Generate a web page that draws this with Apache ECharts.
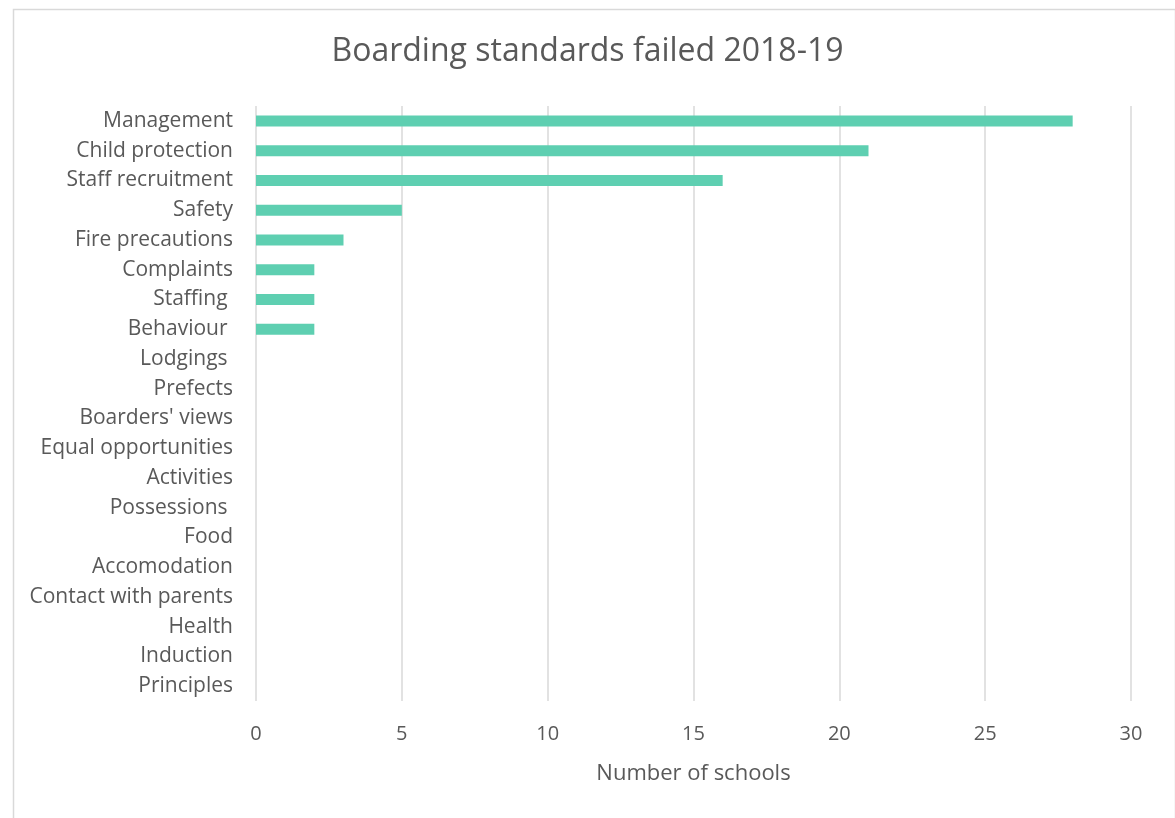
<!DOCTYPE html>
<html><head><meta charset="utf-8">
<script src="https://cdn.jsdelivr.net/npm/echarts@6/dist/echarts.min.js"></script>
<style>html,body{margin:0;padding:0;background:#fff}#c{width:1175px;height:818px}</style>
</head><body><div id="c"></div>
<script>
const categories = ["Management","Child protection","Staff recruitment","Safety","Fire precautions","Complaints","Staffing ","Behaviour ","Lodgings ","Prefects","Boarders' views","Equal opportunities","Activities","Possessions ","Food","Accomodation","Contact with parents","Health","Induction","Principles"];
const values = [28,21,16,5,3,2,2,2,0,0,0,0,0,0,0,0,0,0,0,0];
const xTicks = {min:0,max:30,interval:5};
const FONT = "'Open Sans', 'Noto Sans', sans-serif";
const chart = echarts.init(document.getElementById('c'), null, {renderer:'canvas'});
chart.setOption({
  animation:false,
  backgroundColor:'#fff',
  graphic:[{type:'rect',left:11,top:7,shape:{width:1162,height:840},style:{fill:'none',stroke:'#d9d9d9',lineWidth:1.5},silent:true}],
  title:{text:'Boarding standards failed 2018-19',left:'center',top:31,textStyle:{fontFamily:FONT,fontSize:32,fontWeight:'normal',color:'#595959'}},
  grid:{left:256,right:44,top:106,bottom:117,containLabel:false},
  xAxis:{type:'value',min:xTicks.min,max:xTicks.max,interval:xTicks.interval,
    name:'Number of schools',nameLocation:'middle',nameGap:62,
    nameTextStyle:{fontFamily:FONT,fontSize:22,color:'#595959'},
    axisLine:{show:false},axisTick:{show:false},
    axisLabel:{fontFamily:FONT,fontSize:20,color:'#595959',margin:23},
    splitLine:{show:true,lineStyle:{color:'#d9d9d9',width:1.5}}},
  yAxis:{type:'category',data:categories,inverse:true,
    axisLine:{show:false},axisTick:{show:false},
    axisLabel:{fontFamily:FONT,fontSize:21,color:'#595959',margin:23,padding:[3,0,0,0]},
    splitLine:{show:false}},
  series:[{type:'bar',data:values,barWidth:11,itemStyle:{color:'#5ECFB1'}}]
});
</script></body></html>
